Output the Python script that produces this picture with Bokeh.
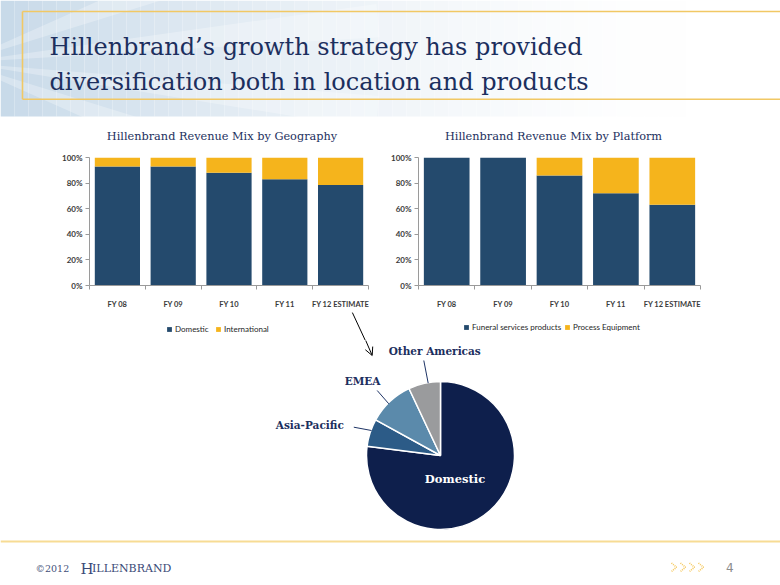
import math
from bokeh.plotting import figure
from bokeh.layouts import column, row
from bokeh.models import (Range1d, ColumnDataSource, FixedTicker, NumeralTickFormatter,
                          Legend, LegendItem, Arrow, OpenHead)
from bokeh.core.properties import value
from bokeh.embed import file_html
from bokeh.resources import INLINE

# ---------------- data ----------------
years = ["FY 08", "FY 09", "FY 10", "FY 11", "FY 12 ESTIMATE"]
geo_domestic = [0.93, 0.93, 0.88, 0.83, 0.785]
geo_international = [0.07, 0.07, 0.12, 0.17, 0.215]
platform_funeral = [1.00, 1.00, 0.86, 0.72, 0.63]
platform_process = [0.00, 0.00, 0.14, 0.28, 0.37]
pct_ticks = [0, 0.2, 0.4, 0.6, 0.8, 1.0]

regions = ["Domestic", "Asia-Pacific", "EMEA", "Other Americas"]
region_share = [77, 6, 10, 7]

title_lines = ["Hillenbrand\u2019s growth strategy has provided",
               "diversification both in location and products"]
geo_title = "Hillenbrand Revenue Mix by Geography"
plat_title = "Hillenbrand Revenue Mix by Platform"
geo_series = ["Domestic", "International"]
plat_series = ["Funeral services products", "Process Equipment"]

# ---------------- style ----------------
SERIF = "DejaVu Serif"
SANS = "Lato"
NAVY_TXT = "#1c2f5e"
BAR_BLUE = "#244a6d"
BAR_GOLD = "#f5b41c"
GOLD_LINE = "#f1c864"
AXIS_GREY = "#9a9a9a"
PIE_COLORS = ["#0e1f4c", "#2c5b87", "#5b8aab", "#9a9b9d"]

PAGE_H = 585


def Y(py):
    return PAGE_H - py


def canvas(x0, x1, py0, py1):
    p = figure(width=int(x1 - x0), height=int(py1 - py0),
               x_range=Range1d(x0, x1), y_range=Range1d(Y(py1), Y(py0)),
               x_axis_type=None, y_axis_type=None,
               output_backend="svg", toolbar_location=None,
               min_border=0)
    p.grid.visible = False
    p.outline_line_color = None
    p.background_fill_color = "white"
    p.border_fill_color = "white"
    return p


# ---------------- header ----------------
head = canvas(0, 780, 0, 145)
n = 50
edges = [i * 14 for i in range(n + 1)]
cols = []
for i in range(n):
    xm = (edges[i] + edges[i + 1]) / 2
    f = max(0.0, 1 - xm / 690) ** 1.6
    r, g, b = 255 - 55 * f, 255 - 37 * f, 255 - 22 * f
    cols.append("#%02x%02x%02x" % (int(r), int(g), int(b)))
head.quad(left=edges[:-1], right=edges[1:], bottom=Y(116), top=Y(0),
          fill_color=cols, line_color=None)
head.wedge(x=-40, y=Y(62), radius=420,
           start_angle=[-0.42, -0.16, 0.06, 0.3], end_angle=[-0.3, -0.08, 0.14, 0.42],
           fill_color="white", fill_alpha=0.28, line_color=None)
head.line([22, 780], [Y(11), Y(11)], line_color=GOLD_LINE, line_width=1.6)
head.line([22, 780], [Y(98.7), Y(98.7)], line_color=GOLD_LINE, line_width=1.6)
head.line([22, 22], [Y(11), Y(98.7)], line_color=GOLD_LINE, line_width=1.6)
head.text(x=[49, 49], y=[Y(46.7), Y(81.7)], text=title_lines,
          text_font=value(SERIF), text_font_size="24px", text_color=NAVY_TXT,
          text_baseline="alphabetic", text_align="left")
head.text(x=[221.5, 553], y=[Y(135.7), Y(135.7)], text=[geo_title, plat_title],
          text_font=value(SERIF), text_font_size="11.3px", text_color=NAVY_TXT,
          text_baseline="alphabetic", text_align="center")


# ---------------- bar charts ----------------
def bar_chart(px0, px1, fl, fr, s1, s2):
    p = figure(width=px1 - px0, height=167,
               x_range=Range1d(-0.5, len(years) - 0.5), y_range=Range1d(0, 1),
               output_backend="svg", toolbar_location=None,
               min_border_left=fl - px0, min_border_right=px1 - fr,
               min_border_top=12, min_border_bottom=27)
    p.outline_line_color = None
    p.grid.visible = False
    p.background_fill_color = "white"
    p.border_fill_color = "white"
    src = ColumnDataSource(dict(x=list(range(len(years))), a=s1, b=s2))
    p.vbar_stack(["a", "b"], x="x", width=0.81, source=src,
                 fill_color=[BAR_BLUE, BAR_GOLD], line_color=None)
    ya = p.yaxis[0]
    ya.ticker = FixedTicker(ticks=pct_ticks)
    ya.formatter = NumeralTickFormatter(format="0%")
    ya.major_label_text_font = SANS
    ya.major_label_text_font_style = "bold"
    ya.major_label_text_font_size = "8px"
    ya.major_label_text_color = "#3a3a3a"
    ya.axis_line_color = AXIS_GREY
    ya.major_tick_line_color = AXIS_GREY
    ya.major_tick_out = 4
    ya.major_tick_in = 0
    ya.minor_tick_line_color = None
    ya.major_label_standoff = 3
    xa = p.xaxis[0]
    xa.ticker = FixedTicker(ticks=list(range(len(years))),
                            minor_ticks=[i - 0.5 for i in range(len(years) + 1)])
    xa.major_label_overrides = {i: years[i] for i in range(len(years))}
    xa.major_label_text_font = SANS
    xa.major_label_text_font_style = "bold"
    xa.major_label_text_font_size = "7.5px"
    xa.major_label_text_color = "#3a3a3a"
    xa.axis_line_color = AXIS_GREY
    xa.major_tick_line_color = None
    xa.major_tick_out = 0
    xa.major_tick_in = 0
    xa.minor_tick_line_color = AXIS_GREY
    xa.minor_tick_out = 4
    xa.minor_tick_in = 0
    xa.major_label_standoff = 10
    return p


left = bar_chart(0, 386, 89, 368, geo_domestic, geo_international)
right = bar_chart(386, 780, 418, 700, platform_funeral, platform_process)

# ---------------- legend strip (below both charts) ----------------
strip = canvas(0, 780, 312, 340)
sw_blue = strip.vbar(x=[0], top=[0], bottom=[0], width=0, fill_color=BAR_BLUE, line_color=None)
sw_gold = strip.vbar(x=[0], top=[0], bottom=[0], width=0, fill_color=BAR_GOLD, line_color=None)


def add_legend(label, rend, gx, py_center):
    leg = Legend(items=[LegendItem(label=label, renderers=[rend])],
                 location=(gx, 340 - (py_center + 4)),
                 glyph_width=6, glyph_height=6, label_height=8,
                 label_standoff=3, padding=0, margin=0,
                 border_line_color=None, background_fill_alpha=0,
                 label_text_font=SANS, label_text_font_size="8px",
                 label_text_color="#262626")
    strip.add_layout(leg, "center")


add_legend(geo_series[0], sw_blue, 166, 330)
add_legend(geo_series[1], sw_gold, 215, 330)
add_legend(plat_series[0], sw_blue, 463, 327.7)
add_legend(plat_series[1], sw_gold, 564, 327.7)

strip.add_layout(Arrow(x_start=351.7, y_start=Y(311.7), x_end=365.3, y_end=Y(341),
                       end=None, line_color="black", line_width=1))

# ---------------- bottom: pie + footer ----------------
bot = canvas(0, 780, 340, 585)
total = sum(region_share)
starts, ends = [], []
acc = 0
for v in region_share:
    starts.append(math.pi / 2 - 2 * math.pi * acc / total)
    acc += v
    ends.append(math.pi / 2 - 2 * math.pi * acc / total)
bot.wedge(x=440, y=Y(455), radius=74, start_angle=starts, end_angle=ends,
          direction="clock", fill_color=PIE_COLORS, line_color="white", line_width=1.5)

bot.add_layout(Arrow(x_start=364.8, y_start=Y(339), x_end=371.7, y_end=Y(355),
                     end=OpenHead(size=8, line_width=1, line_color="black"),
                     line_color="black", line_width=1))

bot.multi_line(xs=[[423.3, 427.7], [376.7, 388.3], [353.3, 371]],
               ys=[[Y(360), Y(382.7)], [Y(390), Y(403.3)], [Y(426.7), Y(430)]],
               line_color="#1f3566", line_width=1)
bot.text(x=[434.2], y=[Y(350.7)], text=[regions[3]], text_font=value(SERIF),
         text_font_style="bold", text_font_size="10.5px", text_color=NAVY_TXT,
         text_align="center", text_baseline="middle")
bot.text(x=[380], y=[Y(380)], text=[regions[2]], text_font=value(SERIF),
         text_font_style="bold", text_font_size="10.5px", text_color=NAVY_TXT,
         text_align="right", text_baseline="middle")
bot.text(x=[343.3], y=[Y(424)], text=[regions[1]], text_font=value(SERIF),
         text_font_style="bold", text_font_size="10.5px", text_color=NAVY_TXT,
         text_align="right", text_baseline="middle")
bot.text(x=[454.5], y=[Y(478.3)], text=[regions[0]], text_font=value(SERIF),
         text_font_style="bold", text_font_size="11.5px", text_color="white",
         text_align="center", text_baseline="middle")

# footer
bot.line([0, 780], [Y(541), Y(541)], line_color="#f7dc94", line_width=2)
bot.text(x=[35], y=[Y(568)], text=["\u00a92012"], text_font=value(SERIF),
         text_font_size="9.5px", text_color="#44507a", text_baseline="alphabetic")
bot.text(x=[80], y=[Y(568)], text=["H"], text_font=value(SERIF),
         text_font_size="15px", text_color="#3b4a78", text_baseline="alphabetic")
bot.text(x=[91.5], y=[Y(568)], text=["ILLENBRAND"], text_font=value(SERIF),
         text_font_size="11px", text_color="#3b4a78", text_baseline="alphabetic")
for k in range(4):
    x0 = 671 + 9 * k
    bot.line([x0, x0 + 5, x0], [Y(562.5), Y(566.7), Y(571)],
             line_color="#f4c24a", line_width=1.6, line_dash="1 1", line_alpha=0.9)
bot.text(x=[729.3], y=[Y(566.5)], text=["4"], text_font=value("DejaVu Sans"),
         text_font_size="12px", text_color="#8c8c8c", text_align="center",
         text_baseline="middle")

layout = column(head, row(left, right), strip, bot)
open("out.html", "w").write(file_html(layout, INLINE))
